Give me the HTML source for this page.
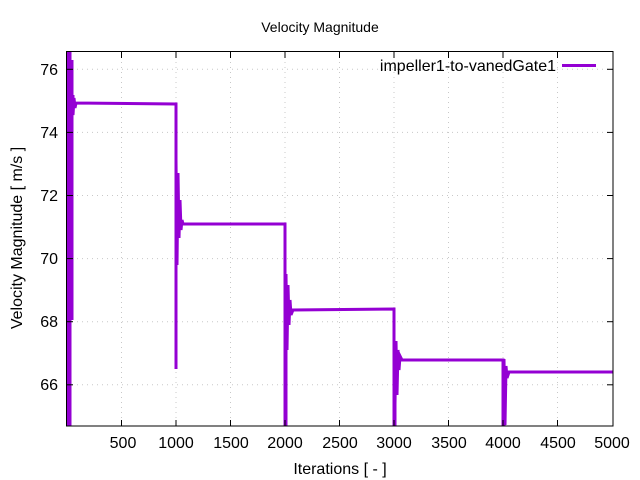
<!DOCTYPE html>
<html><head><meta charset="utf-8"><style>
html,body{margin:0;padding:0;background:#fff;}
svg{display:block;font-family:"Liberation Sans",sans-serif;}
</style></head><body>
<svg width="640" height="480" viewBox="0 0 640 480" xmlns="http://www.w3.org/2000/svg">
<rect width="640" height="480" fill="#fff"/>
<g stroke="#c8c8c8" stroke-width="1" stroke-dasharray="1,4">
<line x1="121.5" y1="52" x2="121.5" y2="426"/>
<line x1="176" y1="52" x2="176" y2="426"/>
<line x1="230.5" y1="52" x2="230.5" y2="426"/>
<line x1="285" y1="52" x2="285" y2="426"/>
<line x1="339.5" y1="52" x2="339.5" y2="426"/>
<line x1="394" y1="52" x2="394" y2="426"/>
<line x1="448.5" y1="52" x2="448.5" y2="426"/>
<line x1="503" y1="52" x2="503" y2="426"/>
<line x1="557.5" y1="52" x2="557.5" y2="426"/>
<line x1="67" y1="69.3" x2="613" y2="69.3"/>
<line x1="67" y1="132.4" x2="613" y2="132.4"/>
<line x1="67" y1="195.5" x2="613" y2="195.5"/>
<line x1="67" y1="258.6" x2="613" y2="258.6"/>
<line x1="67" y1="321.7" x2="613" y2="321.7"/>
<line x1="67" y1="384.8" x2="613" y2="384.8"/>
</g>
<g fill="none" stroke="#9400d3" stroke-width="3" stroke-linejoin="miter">
<rect x="67" y="52" width="4" height="374" fill="#9400d3" stroke="none"/>
<path d="M70 52 L70 426 M72 60 L72 320 M73 95 L73 115 L74 98 L75 108 L76 103 L176 104 L176 369 L176 160 L177 265 L178 173 L179 238 L180 200 L181 230 L182 220 L183 224 L285 224 L285 426 M286 426 L286 274 L287 350 L288 285 L289 325 L290 300 L291 315 L293 310 L394 309 L394 426 M395 426 L395 404 L396 341 L397 395 L398 350 L399 370 L400 356 L402 360 L503 360 L503 426 M504 426 L504 359 L505 425 L506 366 L507 378 L509 372 L613 372"/>
<line x1="562" y1="65.5" x2="596" y2="65.5"/>
</g>
<rect x="66.5" y="51.5" width="546.5" height="374.5" fill="none" stroke="#000" stroke-width="1"/>
<g stroke="#000" stroke-width="1">
<line x1="121.5" y1="426" x2="121.5" y2="420"/><line x1="121.5" y1="52" x2="121.5" y2="58"/>
<line x1="176" y1="426" x2="176" y2="420"/><line x1="176" y1="52" x2="176" y2="58"/>
<line x1="230.5" y1="426" x2="230.5" y2="420"/><line x1="230.5" y1="52" x2="230.5" y2="58"/>
<line x1="285" y1="426" x2="285" y2="420"/><line x1="285" y1="52" x2="285" y2="58"/>
<line x1="339.5" y1="426" x2="339.5" y2="420"/><line x1="339.5" y1="52" x2="339.5" y2="58"/>
<line x1="394" y1="426" x2="394" y2="420"/><line x1="394" y1="52" x2="394" y2="58"/>
<line x1="448.5" y1="426" x2="448.5" y2="420"/><line x1="448.5" y1="52" x2="448.5" y2="58"/>
<line x1="503" y1="426" x2="503" y2="420"/><line x1="503" y1="52" x2="503" y2="58"/>
<line x1="557.5" y1="426" x2="557.5" y2="420"/><line x1="557.5" y1="52" x2="557.5" y2="58"/>
<line x1="67" y1="69.3" x2="73" y2="69.3"/><line x1="613" y1="69.3" x2="607" y2="69.3"/>
<line x1="67" y1="132.4" x2="73" y2="132.4"/><line x1="613" y1="132.4" x2="607" y2="132.4"/>
<line x1="67" y1="195.5" x2="73" y2="195.5"/><line x1="613" y1="195.5" x2="607" y2="195.5"/>
<line x1="67" y1="258.6" x2="73" y2="258.6"/><line x1="613" y1="258.6" x2="607" y2="258.6"/>
<line x1="67" y1="321.7" x2="73" y2="321.7"/><line x1="613" y1="321.7" x2="607" y2="321.7"/>
<line x1="67" y1="384.8" x2="73" y2="384.8"/><line x1="613" y1="384.8" x2="607" y2="384.8"/>
</g>
<g font-size="16" fill="#000" text-anchor="end">
<text x="58" y="75">76</text><text x="58" y="138">74</text><text x="58" y="201">72</text>
<text x="58" y="264">70</text><text x="58" y="327">68</text><text x="58" y="390">66</text>
</g>
<g font-size="16" fill="#000" text-anchor="middle">
<text x="123" y="448">500</text><text x="176" y="448">1000</text><text x="231" y="448">1500</text>
<text x="285" y="448">2000</text><text x="340" y="448">2500</text><text x="394" y="448">3000</text>
<text x="449" y="448">3500</text><text x="503" y="448">4000</text><text x="558" y="448">4500</text>
<text x="612" y="448">5000</text>
</g>
<text x="320" y="32" font-size="14" text-anchor="middle">Velocity Magnitude</text>
<text x="340" y="474" font-size="16" text-anchor="middle">Iterations [ - ]</text>
<text transform="translate(22,238) rotate(-90)" font-size="16" text-anchor="middle">Velocity Magnitude [ m/s ]</text>
<text x="556" y="71" font-size="16" text-anchor="end">impeller1-to-vanedGate1</text>
</svg>
</body></html>
